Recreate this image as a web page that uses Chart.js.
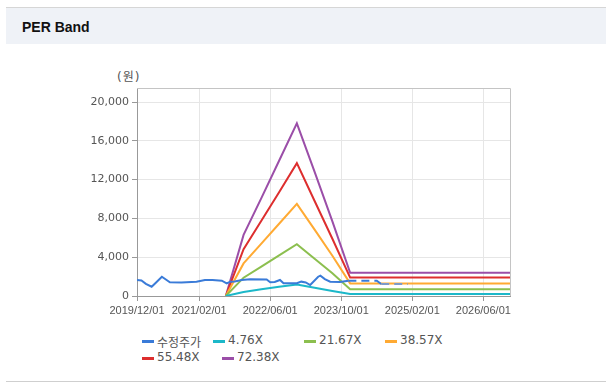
<!DOCTYPE html>
<html>
<head>
<meta charset="utf-8">
<script src="https://cdn.jsdelivr.net/npm/chart.js@4.4.1/dist/chart.umd.min.js"></script>
<style>
  body { margin: 0; background: #fff; width: 606px; height: 392px; position: relative; overflow: hidden;
         font-family: "DejaVu Sans", "Noto Sans CJK KR", sans-serif; }
  .head { position: absolute; left: 6px; top: 7px; width: 600px; height: 36px; background: #eff2f7;
          border-top: 1px solid #d6d6d6; }
  .head span { position: absolute; left: 16px; top: 11px; font: bold 14px "Liberation Sans", "Noto Sans", sans-serif; color: #111; }
  .unit { position: absolute; left: 117px; top: 67px; font-size: 12px; color: #555; letter-spacing: 1px; }
  #wrap { position: absolute; left: 60px; top: 60px; }
  .leg { position: absolute; font-size: 12px; color: #555; white-space: nowrap; }
  .leg i { position: absolute; left: 0; top: 7px; width: 12px; height: 3px; }
  .leg b { font-weight: normal; position: absolute; left: 15px; top: 0; }
  .foot { position: absolute; left: 6px; top: 381px; width: 600px; height: 1px; background: #cfcfcf; }
</style>
</head>
<body>
<div class="head"><span>PER Band</span></div>
<div class="unit">(원)</div>
<div id="wrap"><canvas id="myChart" width="470" height="266"></canvas></div>
<div id="legend"></div>
<div class="foot"></div>
<script>
// x축은 2019/12 부터의 개월 수
const xTickMonths = [0, 14, 30, 46, 62, 78];
const xTickLabels = ['2019/12/01', '2021/02/01', '2022/06/01', '2023/10/01', '2025/02/01', '2026/06/01'];
const yTicks = [0, 4000, 8000, 12000, 16000, 20000];

// 수정주가
const priceMonths = [0, 1, 2, 3.3, 4.3, 5.6, 6.5, 7.4, 10, 13.4, 15.3, 17, 19.1, 20.2, 21, 22, 23.6, 25.5, 29.2, 30, 31, 32.2, 33, 36, 37, 38, 39, 40.8, 41.3, 42.3, 43.5, 45.7, 47.6, 54, 55, 61];
const priceValues = [1650, 1600, 1250, 960, 1400, 1990, 1700, 1410, 1400, 1470, 1650, 1650, 1580, 1310, 1480, 1500, 1650, 1720, 1700, 1420, 1450, 1650, 1310, 1310, 1480, 1400, 1130, 1990, 2100, 1750, 1480, 1450, 1580, 1580, 1240, 1240];

// PER 밴드
const bandMonths = [20, 24, 28, 32, 36, 40, 44, 48, 84];
const band476 = [0, 420, 700, 950, 1180, 850, 520, 200, 200];
const band2167 = [0, 1890, 3030, 4180, 5350, 3850, 2350, 700, 700];
const band3857 = [0, 3360, 5400, 7450, 9500, 6850, 4150, 1300, 1300];
const band5548 = [0, 4830, 7770, 10700, 13700, 9800, 5900, 1900, 1900];
const band7238 = [0, 6300, 10100, 13950, 17800, 12800, 7700, 2400, 2400];

const seriesLabels = ['수정주가', '4.76X', '21.67X', '38.57X', '55.48X', '72.38X'];
const seriesColors = ['#3a7bd8', '#1cb8c9', '#8cbf4f', '#ffaa33', '#dd2e2e', '#9b4ea8'];

const toPoints = (xs, ys) => xs.map((x, i) => ({ x: x, y: ys[i] }));
const bands = [band476, band2167, band3857, band5548, band7238];

const datasets = [{
    label: seriesLabels[0],
    data: toPoints(priceMonths, priceValues),
    borderColor: seriesColors[0],
    order: 0,
    segment: {
        borderDash: ctx => ctx.p0.parsed.x >= 47.5 ? [8, 5] : undefined,
        borderColor: ctx => ctx.p0.parsed.x >= 54.5 ? '#7d9bc8' : undefined
    }
}];
bands.forEach((b, i) => {
    datasets.push({
        label: seriesLabels[i + 1],
        data: toPoints(bandMonths, b),
        borderColor: seriesColors[i + 1],
        order: 1
    });
});

// 차트 영역 테두리
const boxPlugin = {
    id: 'box',
    afterDraw(chart) {
        const a = chart.chartArea, c = chart.ctx;
        c.save();
        c.strokeStyle = '#c4c4c4';
        c.lineWidth = 1;
        c.beginPath();
        c.moveTo(a.left, a.top + 0.5); c.lineTo(a.right + 0.5, a.top + 0.5);
        c.lineTo(a.right + 0.5, a.bottom);
        c.stroke();
        c.restore();
    }
};

const ctx = document.getElementById('myChart').getContext('2d');
const myChart = new Chart(ctx, {
    type: 'line',
    data: { datasets: datasets },
    plugins: [boxPlugin],
    options: {
        responsive: false,
        animation: false,
        devicePixelRatio: 1,
        layout: { padding: { top: 28, right: 20, left: 0, bottom: 0 } },
        elements: { point: { radius: 0 }, line: { borderWidth: 2, tension: 0 } },
        plugins: { legend: { display: false }, tooltip: { enabled: false } },
        scales: {
            x: {
                type: 'linear', min: 0, max: 84,
                afterBuildTicks: s => { s.ticks = xTickMonths.map(v => ({ value: v })); },
                afterFit: s => { s.height = 30; },
                ticks: {
                    autoSkip: false, maxRotation: 0, padding: 3, color: '#555',
                    font: { family: 'Liberation Sans', size: 11 },
                    callback: v => xTickLabels[xTickMonths.indexOf(v)]
                },
                grid: { color: '#e6e6e6', tickColor: '#999', tickLength: 5 },
                border: { color: '#999' }
            },
            y: {
                min: 0, max: 21450,
                afterBuildTicks: s => { s.ticks = yTicks.map(v => ({ value: v })); },
                afterFit: s => { s.width = 77; },
                ticks: {
                    padding: 3, color: '#555',
                    font: { family: 'DejaVu Sans', size: 11 },
                    callback: v => v.toLocaleString('en-US')
                },
                grid: { color: '#e6e6e6', tickColor: '#999', tickLength: 5 },
                border: { color: '#999' }
            }
        }
    }
});

// 범례
const legendPos = [[142, 333], [213, 333], [304, 333], [385, 333], [142, 350], [222, 350]];
const legend = document.getElementById('legend');
seriesLabels.forEach((lab, i) => {
    const d = document.createElement('div');
    d.className = 'leg';
    d.style.left = legendPos[i][0] + 'px';
    d.style.top = legendPos[i][1] + 'px';
    d.innerHTML = '<i style="background:' + seriesColors[i] + '"></i><b>' + lab + '</b>';
    legend.appendChild(d);
});
</script>
</body>
</html>
